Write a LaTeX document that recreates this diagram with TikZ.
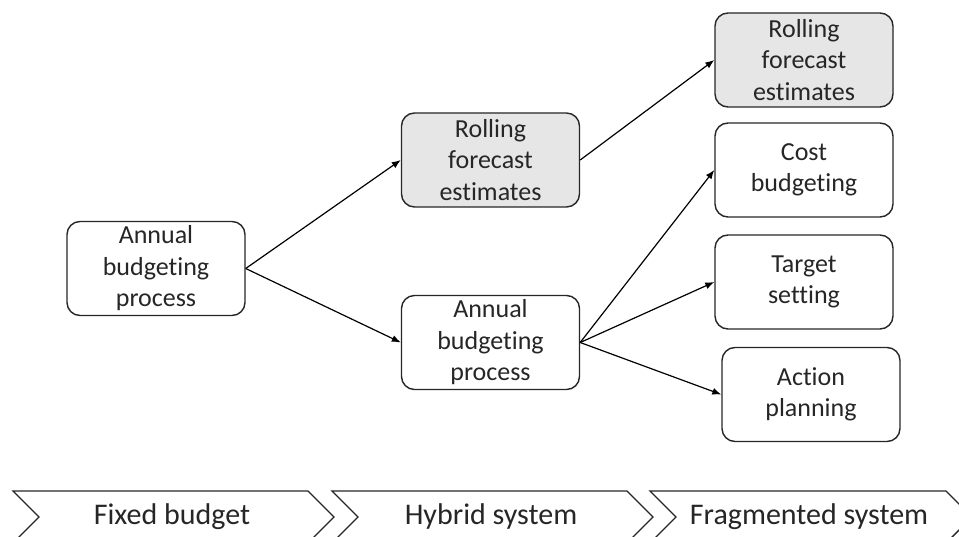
\documentclass[tikz,border=0pt]{standalone}
\usepackage{fontspec}
\setmainfont{Carlito}[Ligatures={NoCommon,NoRare}]
\usetikzlibrary{arrows.meta}
\definecolor{boxgray}{HTML}{E7E6E6}
\definecolor{ink}{HTML}{262626}
\begin{document}
\begin{tikzpicture}[x=1pt,y=-1pt,
  box/.style={draw=ink, line width=1.4pt, rounded corners=13pt,
    minimum width=178pt, minimum height=94pt, inner sep=0pt,
    align=center, text=ink, font=\fontsize{26}{31.5}\selectfont},
  shaded/.style={box, fill=boxgray},
  link/.style={draw=black, line width=1.2pt, -{Latex[length=9pt,width=7pt]}},
  phase/.style={draw=ink, line width=1.4pt, line join=miter},
  phaselabel/.style={text=ink, inner sep=0pt, font=\fontsize{30}{36}\selectfont}
]
\useasboundingbox (0,0) rectangle (959,537);

% process boxes
\node[box]    (a1) at (156,268.5) {Annual\\budgeting\\process};
\node[shaded] (r1) at (490.5,160) {Rolling\\forecast\\estimates};
\node[box]    (a2) at (490.5,342.5) {Annual\\budgeting\\process};
\node[shaded] (r2) at (804,60) {Rolling\\forecast\\estimates};
\node[box]    (cb) at (804,170) {Cost\\budgeting};
\node[box]    (ts) at (804,282) {Target\\setting};
\node[box]    (ap) at (811,394.5) {Action\\planning};

% connectors
\draw[link] (a1.east) -- (r1.west);
\draw[link] (a1.east) -- (a2.west);
\draw[link] (r1.east) -- (r2.west);
\draw[link] (a2.east) -- (cb.west);
\draw[link] (a2.east) -- (ts.west);
\draw[link] (a2.east) -- (ap.west);

% phase chevrons
\draw[phase] (13,491) -- (308,491) -- (334,517) -- (308,543) -- (13,543) -- (39,517) -- cycle;
\draw[phase] (332,491) -- (627,491) -- (653,517) -- (627,543) -- (332,543) -- (358,517) -- cycle;
\draw[phase] (650,491) -- (946,491) -- (972,517) -- (946,543) -- (650,543) -- (676,517) -- cycle;
\node[phaselabel] (p1) at (172,517) {Fixed budget};
\node[phaselabel] (p2) at (491,517) {Hybrid system};
\node[phaselabel] (p3) at (809,517) {Fragmented system};
\end{tikzpicture}
\end{document}
